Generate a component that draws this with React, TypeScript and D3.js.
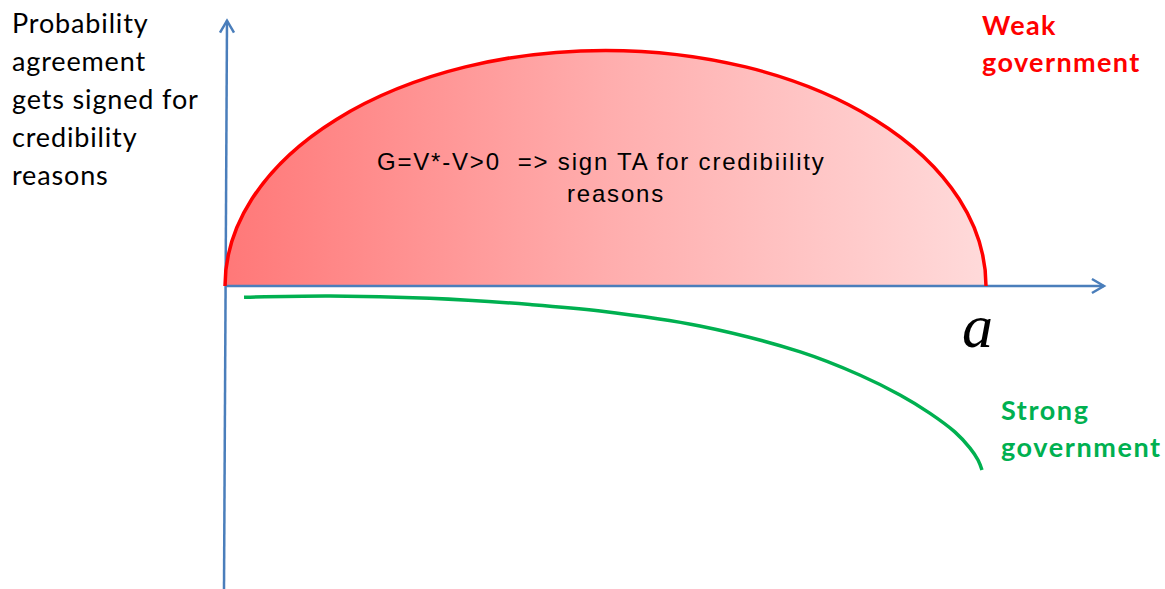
import React from "react";
import * as d3 from "d3";

// Data (a on horizontal axis, probability on vertical axis)
const weakRegion = { aStart: 0, aEnd: 1, peak: 0.99 };
const strongA = [0.025, 0.138, 0.269, 0.401, 0.493, 0.624, 0.756, 0.834, 0.887, 0.926, 0.959, 0.979, 0.9895, 0.9947];
const strongP = [-0.0475, -0.042, -0.0517, -0.0777, -0.105, -0.168, -0.277, -0.374, -0.458, -0.534, -0.613, -0.681, -0.731, -0.773];
const axisA = [0, 1.155];
const axisP = [-1.275, 1.115];
const yLabelLines = ["Probability", "agreement", "gets signed for", "credibility", "reasons"];
const regionLabel = ["G=V*-V>0  => sign TA for credibiility", "reasons"];
const weakLabel = ["Weak", "government"];
const strongLabel = ["Strong", "government"];

const W = 1165;
const H = 589;

export default function App() {
  const x = d3.scaleLinear().domain([0, 1]).range([225, 986]);
  const y = d3.scaleLinear().domain([0, 1]).range([286, 48]);
  const axisColor = "#4a7ebb";

  const x0 = x(weakRegion.aStart);
  const x1 = x(weakRegion.aEnd);
  const rx = (x1 - x0) / 2;
  const ry = y(0) - y(weakRegion.peak);
  const ellipsePath = `M${x0},${y(0)} A${rx},${ry} 0 0 1 ${x1},${y(0)}`;

  const line = d3
    .line<number>()
    .x((d) => x(d))
    .y((_, i) => y(strongP[i]))
    .curve(d3.curveCatmullRom.alpha(0.5));

  const hx0 = x(axisA[0]);
  const hx1 = x(axisA[1]);
  const hy = y(0);
  const vyTop = y(axisP[1]);
  const vyBot = y(axisP[0]);
  const vxTop = 227;
  const vxBot = 224;

  const labelFont = "Lato, 'Open Sans', sans-serif";

  return (
    <svg width={W} height={H} style={{ position: "absolute", left: 0, top: 0 }}>
      <defs>
        <linearGradient id="weakGrad" x1="0" x2="1" y1="0" y2="0">
          <stop offset="0" stopColor="#ff7878" />
          <stop offset="0.5" stopColor="#ffadad" />
          <stop offset="1" stopColor="#ffdada" />
        </linearGradient>
      </defs>
      <path d={ellipsePath} fill="url(#weakGrad)" stroke="none" />
      {/* axes */}
      <line x1={hx0} y1={hy} x2={hx1} y2={hy} stroke={axisColor} strokeWidth={2.5} />
      <path
        d={`M${hx1 - 12},${hy - 7} L${hx1},${hy} L${hx1 - 12},${hy + 7}`}
        fill="none"
        stroke={axisColor}
        strokeWidth={2.5}
      />
      <line x1={vxBot} y1={vyBot} x2={vxTop} y2={vyTop} stroke={axisColor} strokeWidth={2.5} />
      <path
        d={`M${vxTop - 7},${vyTop + 12} L${vxTop},${vyTop} L${vxTop + 7},${vyTop + 12}`}
        fill="none"
        stroke={axisColor}
        strokeWidth={2.5}
      />
      <path d={ellipsePath} fill="none" stroke="#ff0000" strokeWidth={3.5} />
      <path d={line(strongA) || ""} fill="none" stroke="#00b050" strokeWidth={3.5} />

      <g fontFamily={labelFont} fontSize={27} letterSpacing={0.85} fill="#000">
        {yLabelLines.map((t, i) => (
          <text key={i} x={12} y={33 + i * 38}>
            {t}
          </text>
        ))}
      </g>
      <g fontFamily="'Liberation Sans', Arial, sans-serif" fontSize={24} letterSpacing={1.8} fill="#000">
        <text x={377} y={170} style={{ whiteSpace: "pre" }}>
          {regionLabel[0]}
        </text>
        <text x={567} y={202}>
          {regionLabel[1]}
        </text>
      </g>
      <g fontFamily={labelFont} fontSize={27} letterSpacing={1.4} fontWeight="bold" fill="#ff0000">
        {weakLabel.map((t, i) => (
          <text key={i} x={982} y={35 + i * 37}>
            {t}
          </text>
        ))}
      </g>
      <g fontFamily={labelFont} fontSize={27} letterSpacing={1.6} fontWeight="bold" fill="#00b050">
        {strongLabel.map((t, i) => (
          <text key={i} x={1001} y={420 + i * 37}>
            {t}
          </text>
        ))}
      </g>
      <text
        x={962}
        y={347}
        fontFamily="'Liberation Serif', 'Times New Roman', serif"
        fontStyle="italic"
        fontSize={62}
        fill="#000"
      >
        a
      </text>
    </svg>
  );
}
